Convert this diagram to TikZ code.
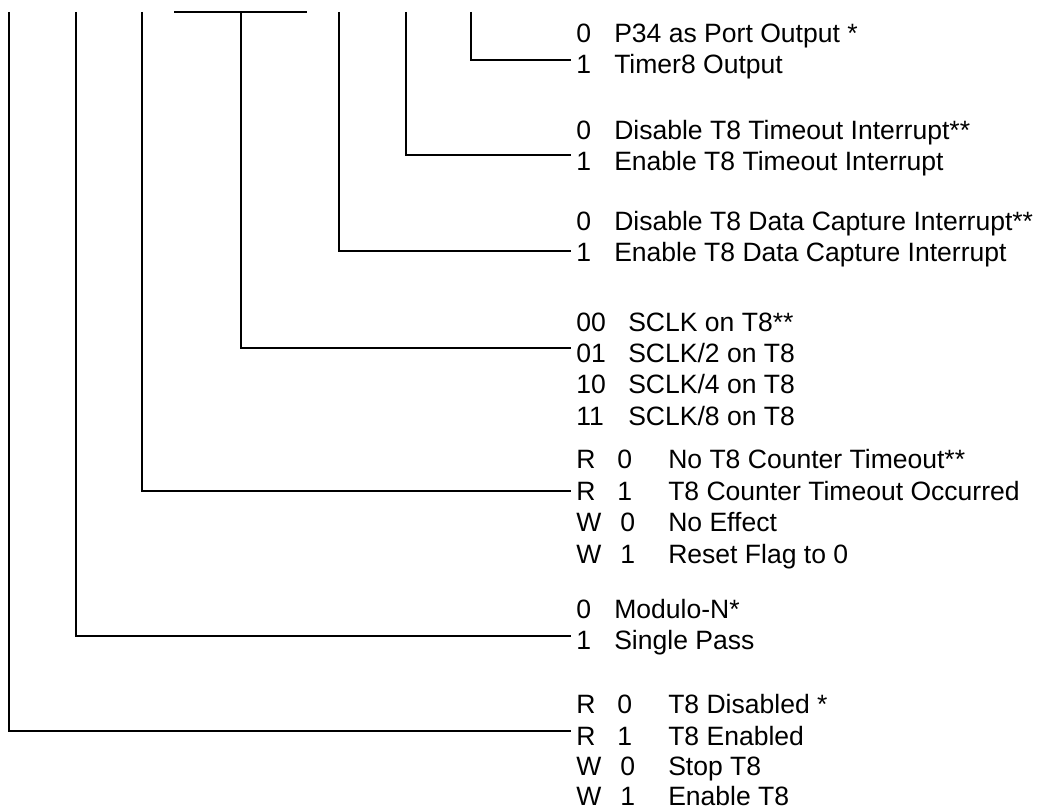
\documentclass[tikz,border=0pt]{standalone}
\usepackage{fontspec}
\setmainfont{Liberation Sans}
\newcommand\myone[2]{\makebox[28.5pt][l]{#1}#2}
\newcommand\mytwo[2]{\makebox[39pt][l]{#1}#2}
\newcommand\myrr[3]{\makebox[30.75pt][l]{#1}\makebox[38.25pt][l]{#2}#3}
\newcommand\myww[3]{\makebox[33pt][l]{#1}\makebox[36pt][l]{#2}#3}
\begin{document}
\begin{tikzpicture}[x=0.75pt,y=-0.75pt,
  lbl/.style={anchor=base west, inner sep=0pt, font=\fontsize{19.9}{24}\selectfont},
  wire/.style={line width=0.8pt, black}]
\useasboundingbox (0,0) rectangle (1043,812);
% tops of bit lines
\coordinate (t1) at (471,12);
\coordinate (t2) at (406,12);
\coordinate (t3) at (339,12);
\coordinate (t4) at (241,12);
\coordinate (t4l) at (174,12);
\coordinate (t4r) at (307,12);
\coordinate (t5) at (142,12);
\coordinate (t6) at (76,12);
\coordinate (t7) at (9,12);
% leader ends
\coordinate (e1) at (571,60);
\coordinate (e2) at (571,155);
\coordinate (e3) at (571,251);
\coordinate (e4) at (571,348);
\coordinate (e5) at (571,491);
\coordinate (e6) at (571,636);
\coordinate (e7) at (571,731);
% texts
\node[lbl] (a0) at (576,43) {\myone{0}{P34 as Port Output *}};
\node[lbl] (a1) at (576,74) {\myone{1}{Timer8 Output}};
\node[lbl] (b0) at (576,140) {\myone{0}{Disable T8 Timeout Interrupt**}};
\node[lbl] (b1) at (576,171) {\myone{1}{Enable T8 Timeout Interrupt}};
\node[lbl] (c0) at (576,231) {\myone{0}{Disable T8 Data Capture Interrupt**}};
\node[lbl] (c1) at (576,262) {\myone{1}{Enable T8 Data Capture Interrupt}};
\node[lbl] (d0) at (576,332) {\mytwo{00}{SCLK on T8**}};
\node[lbl] (d1) at (576,363) {\mytwo{01}{SCLK/2 on T8}};
\node[lbl] (d2) at (576,394) {\mytwo{10}{SCLK/4 on T8}};
\node[lbl] (d3) at (576,426) {\mytwo{11}{SCLK/8 on T8}};
\node[lbl] (f0) at (576,469) {\myrr{R}{0}{No T8 Counter Timeout**}};
\node[lbl] (f1) at (576,501) {\myrr{R}{1}{T8 Counter Timeout Occurred}};
\node[lbl] (f2) at (576,532) {\myww{W}{0}{No Effect}};
\node[lbl] (f3) at (576,564) {\myww{W}{1}{Reset Flag to 0}};
\node[lbl] (g0) at (576,619) {\myone{0}{Modulo-N*}};
\node[lbl] (g1) at (576,650) {\myone{1}{Single Pass}};
\node[lbl] (h0) at (576,714) {\myrr{R}{0}{T8 Disabled *}};
\node[lbl] (h1) at (576,745) {\myrr{R}{1}{T8 Enabled}};
\node[lbl] (h2) at (576,775) {\myww{W}{0}{Stop T8}};
\node[lbl] (h3) at (576,805) {\myww{W}{1}{Enable T8}};
% connectors
\draw[wire] (t1) |- (e1);
\draw[wire] (t2) |- (e2);
\draw[wire] (t3) |- (e3);
\draw[wire] (t4l) -- (t4r);
\draw[wire] (t4) |- (e4);
\draw[wire] (t5) |- (e5);
\draw[wire] (t6) |- (e6);
\draw[wire] (t7) |- (e7);
\end{tikzpicture}
\end{document}
